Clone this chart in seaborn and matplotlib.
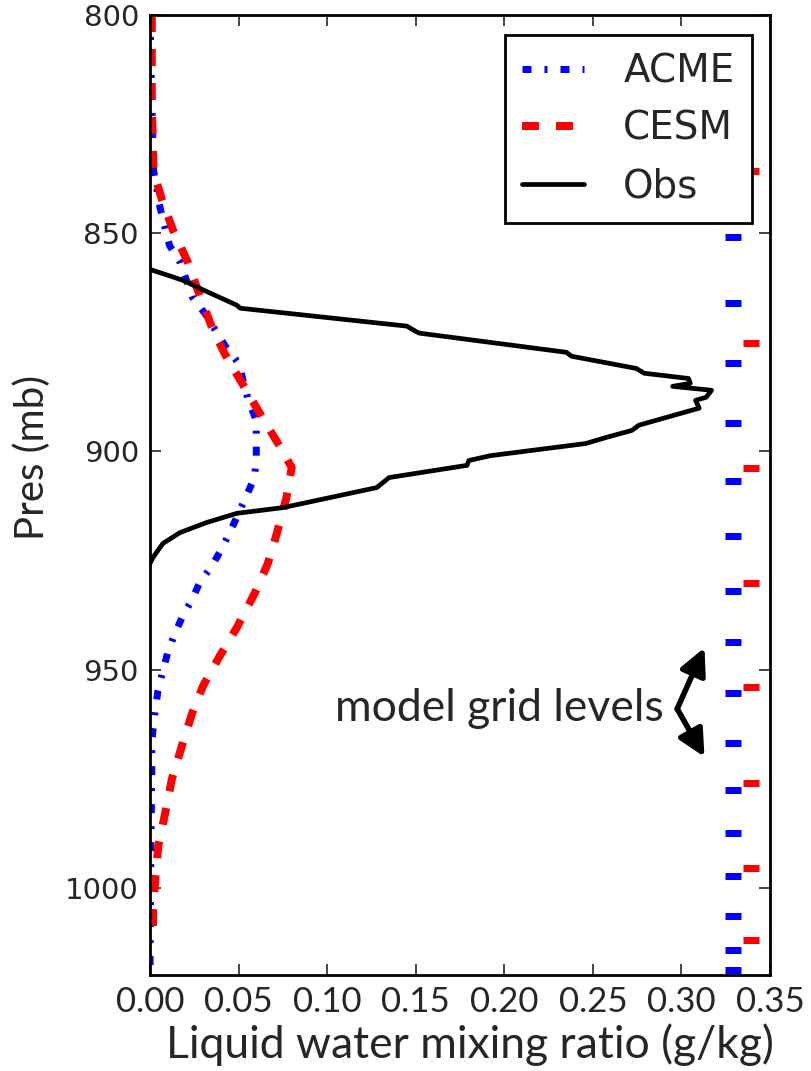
import matplotlib
matplotlib.use("Agg")
import matplotlib.pyplot as plt
from matplotlib import font_manager
import seaborn as sns
import numpy as np
import pandas as pd

# ---------------- data ----------------
acme_q = [0.000, 0.001, 0.002, 0.0056, 0.011, 0.017, 0.024, 0.031, 0.037, 0.043, 0.050,
          0.0555, 0.060, 0.060, 0.060, 0.059, 0.0545, 0.050, 0.045, 0.0405, 0.035, 0.028,
          0.0237, 0.0186, 0.014, 0.010, 0.0073, 0.0045, 0.003, 0.0017, 0.001, 0.001,
          0.0005, 0.000]
acme_p = [800, 820, 835.6, 844, 852.8, 856.7, 864.7, 868.4, 872.3, 876.2, 879.8,
          888.3, 892.9, 896.8, 901.4, 906, 910.1, 914.2, 918.6, 922.3, 926.2, 930.1,
          934.0, 937.6, 941.8, 946.1, 950.3, 954.8, 959, 963.6, 967.9, 972.5,
          990, 1020]

cesm_q = [0.001, 0.001, 0.002, 0.0068, 0.013, 0.0214, 0.028, 0.035, 0.042, 0.052, 0.062,
          0.072, 0.080, 0.077, 0.0716, 0.0665, 0.059, 0.049, 0.0395, 0.030, 0.0237,
          0.018, 0.0124, 0.0085, 0.0047, 0.003, 0.0017, 0.0017]
cesm_p = [800, 820, 836, 842.4, 849.3, 856.7, 864.2, 871.6, 877.5, 884.4, 891.3,
          898, 903.7, 910.6, 918.8, 925.7, 932.6, 940.4, 946.8, 953.7, 960.1,
          967.5, 975, 983, 990.4, 997.7, 1005.3, 1011.5]

obs_q = [0.000, 0.0186, 0.030, 0.049, 0.051, 0.145, 0.150, 0.152, 0.235, 0.238, 0.2745,
         0.279, 0.304, 0.305, 0.295, 0.317, 0.314, 0.308, 0.310, 0.276, 0.272, 0.2576,
         0.246, 0.192, 0.180, 0.179, 0.135, 0.128, 0.075, 0.049, 0.032, 0.017, 0.0073,
         0.0017, 0.000]
obs_p = [858.3, 860.8, 863, 866.5, 867.2, 871.3, 872.5, 872.9, 877.3, 878.2, 881,
         882.1, 883.3, 884.4, 885.1, 886, 887.6, 888.3, 890.1, 894, 895.2, 896.8,
         898.2, 901, 902.1, 903.2, 906, 908.3, 912.9, 914.2, 916.3, 918.6, 921.1,
         924.3, 925.7]

acme_levels = [835.8, 850.9, 866.1, 879.8, 893.4, 906.7, 919.5, 931.9, 943.8, 955.3,
               966.8, 977.5, 987.4, 997.3, 1006.5, 1014.3, 1018.8]
cesm_levels = [835.8, 875.2, 903.9, 930.1, 953.9, 975.9, 995.4, 1012.0]
acme_level_x = 0.329
cesm_level_x = 0.339

series_names = ["ACME", "CESM", "Obs"]
x_ticks = [0.00, 0.05, 0.10, 0.15, 0.20, 0.25, 0.30, 0.35]
y_ticks = [800, 850, 900, 950, 1000]

# ---------------- style ----------------
sns.set_style("ticks")
plt.rcParams["font.family"] = ["DejaVu Sans"]
plt.rcParams["lines.scale_dashes"] = False

avail = {f.name for f in font_manager.fontManager.ttflist}
label_font = "Lato" if "Lato" in avail else "DejaVu Sans"
tick_font = "Liberation Sans Narrow" if "Liberation Sans Narrow" in avail else label_font

fig = plt.figure(figsize=(8.12, 10.71), dpi=100)
ax = fig.add_axes([150 / 812, 1 - 975 / 1071, (770 - 150) / 812, (975 - 15) / 1071])

df_acme = pd.DataFrame({"q": acme_q, "p": acme_p})
df_cesm = pd.DataFrame({"q": cesm_q, "p": cesm_p})
df_obs = pd.DataFrame({"q": obs_q, "p": obs_p})

px = 0.72
sns.lineplot(data=df_acme, x="q", y="p", sort=False, estimator=None, ax=ax,
             color="blue", lw=7 * px, label=series_names[0],
             linestyle=(0, (9 * px, 13 * px, 3 * px, 13 * px)))
sns.lineplot(data=df_cesm, x="q", y="p", sort=False, estimator=None, ax=ax,
             color="red", lw=8 * px, label=series_names[1],
             linestyle=(0, (17 * px, 17 * px)))
sns.lineplot(data=df_obs, x="q", y="p", sort=False, estimator=None, ax=ax,
             color="black", lw=3.4, label=series_names[2])

sns.scatterplot(x=[acme_level_x] * len(acme_levels), y=acme_levels, ax=ax,
                marker="_", s=(16 * px) ** 2, linewidth=7 * px, color="blue",
                legend=False, zorder=3)
sns.scatterplot(x=[cesm_level_x] * len(cesm_levels), y=cesm_levels, ax=ax,
                marker="_", s=(16 * px) ** 2, linewidth=7 * px, color="red",
                legend=False, zorder=3)

ax.set_xlim(0, 0.35)
ax.set_ylim(1020, 800)
ax.set_xticks(x_ticks)
ax.set_xticklabels([f"{v:.2f}" for v in x_ticks], fontsize=25, family=tick_font)
ax.set_yticks(y_ticks)
ax.set_yticklabels([str(v) for v in y_ticks], fontsize=21)
ax.tick_params(direction="in", length=8, width=1.2, top=True, right=True, pad=8)
for s in ax.spines.values():
    s.set_linewidth(2)
    s.set_color("black")
ax.set_xlabel("")
ax.set_ylabel("")

fig.text(470 / 812, 1 - 1045 / 1071, "Liquid water mixing ratio (g/kg)",
         ha="center", va="center", fontsize=32, family=label_font)
fig.text(32 / 812, 1 - 457 / 1071, "Pres (mb)", rotation=90,
         ha="center", va="center", fontsize=29, family=label_font)

leg = ax.legend(loc="upper right", bbox_to_anchor=(752 / 812, 1 - 35 / 1071),
                bbox_transform=fig.transFigure, fontsize=28, frameon=True,
                fancybox=False, framealpha=1, edgecolor="black",
                handlelength=1.6, handletextpad=1.0, labelspacing=0.5,
                borderpad=0.45, borderaxespad=0)
leg.get_frame().set_linewidth(2)
leg.set_zorder(10)

ax.text(0.290, 959, "model grid levels", ha="right", va="center",
        fontsize=32, family=label_font)
arrow = dict(arrowstyle="-|>", lw=4, color="black", mutation_scale=40,
             shrinkA=0, shrinkB=0)
ax.annotate("", xy=(0.313, 945.0), xytext=(0.2976, 959), arrowprops=arrow)
ax.annotate("", xy=(0.313, 970.0), xytext=(0.2976, 959), arrowprops=arrow)

fig.savefig("out.png", dpi=100)
